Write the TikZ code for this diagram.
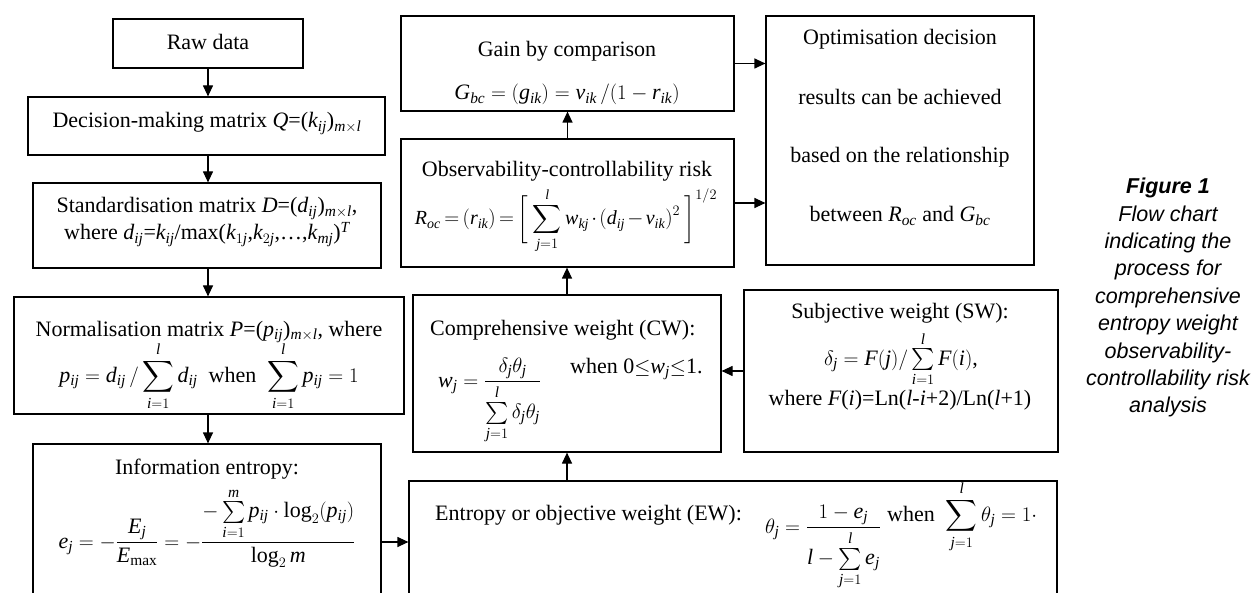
\documentclass[tikz,border=0pt]{standalone}
\DeclareFontShape{OMX}{cmex}{m}{n}{<->cmex10}{}
\usepackage{fontspec}
\setmainfont{Liberation Serif}
\newfontfamily\capfont{Liberation Sans}
\edef\mytmp{\noexpand\DeclareSymbolFont{tuit}{TU}{\rmdefault}{m}{it}}\mytmp
\makeatletter
\def\my@decl#1{\DeclareMathSymbol{#1}{\mathalpha}{tuit}{`#1}}
\@tfor\my@c:=abcdefghijklmnopqrstuvwxyzABCDEFGHIJKLMNOPQRSTUVWXYZ\do{\expandafter\my@decl\my@c}
\makeatother
\newcommand\brstrut{\vrule height 31pt depth 20pt width 0pt}
\usetikzlibrary{arrows.meta}
\begin{document}
\begin{tikzpicture}[x=1pt,y=-1pt,
  box/.style={draw, line width=1.2pt, rectangle, inner sep=0pt},
  arr/.style={line width=1.2pt, -{Triangle[length=11pt,width=10pt]}},
  txt/.style={inner sep=0pt, anchor=base, font=\fontsize{22}{26}\selectfont},
  captext/.style={inner sep=0pt, align=center, font=\capfont\itshape\fontsize{21.5}{27.4}\selectfont}]
\useasboundingbox (0,0) rectangle (1260,593);
\clip (0,0) rectangle (1260,593);
% boxes
\node[box, minimum width=190pt, minimum height=49pt]  (raw)  at (208,43.5) {};
\node[box, minimum width=357pt, minimum height=58pt]  (dec)  at (206.5,126) {};
\node[box, minimum width=348pt, minimum height=85pt]  (std)  at (207,225.5) {};
\node[box, minimum width=390pt, minimum height=117pt] (norm) at (209,355.5) {};
\node[box, minimum width=348pt, minimum height=196pt] (info) at (207,542) {};
\node[box, minimum width=648pt, minimum height=159pt] (ew)   at (733,560.5) {};
\node[box, minimum width=308pt, minimum height=157pt] (cw)   at (567,373.5) {};
\node[box, minimum width=314pt, minimum height=162pt] (sw)   at (901,371) {};
\node[box, minimum width=333pt, minimum height=128pt] (risk) at (567.5,203) {};
\node[box, minimum width=333pt, minimum height=95pt]  (gain) at (567.5,63.5) {};
\node[box, minimum width=268pt, minimum height=249pt] (opt)  at (900,140.5) {};
% texts
\node[txt] (t-raw) at (208,50) {Raw data};
\node[txt] (t-dec) at (207,128) {Decision-making matrix $Q$=($k_{ij}$)$_{m\times l}$};
\node[txt] (t-std1) at (207,213) {Standardisation matrix $D$=($d_{ij}$)$_{m\times l}$,};
\node[txt] (t-std2) at (207,240) {where $d_{ij}$=$k_{ij}$/max($k_{1j}$,$k_{2j}$,\dots,$k_{mj}$)$^{T}$};
\node[txt] (t-norm1) at (209,336) {Normalisation matrix $P$=($p_{ij}$)$_{m\times l}$, where};
\node[txt] (t-norm2) at (209,382) {$\displaystyle p_{ij}=d_{ij}\,/\sum_{i=1}^{l}d_{ij}$\ \ when\ \ $\displaystyle\sum_{i=1}^{l}p_{ij}=1$};
\node[txt] (t-info1) at (207,474) {Information entropy:};
\node[txt] (t-info2) at (207,548) {$\displaystyle e_j=-\frac{E_j}{E_{\max}}=-\frac{-\sum\limits_{i=1}^{m}p_{ij}\cdot\log_2\bigl(p_{ij}\bigr)}{\log_2 m}$};
\node[txt, anchor=base west] (t-ew1) at (435,520) {Entropy or objective weight (EW):};
\node[txt, anchor=base west] (t-ew2) at (765,533) {$\displaystyle \theta_j=\frac{1-e_j}{l-\sum\limits_{j=1}^{l}e_j}$};
\node[txt, anchor=base west] (t-ew3) at (887,521) {when\ \ $\displaystyle\sum_{j=1}^{l}\theta_j=1\cdot$};
\node[txt, anchor=base west] (t-cw1) at (430,335) {Comprehensive weight (CW):};
\node[txt, anchor=base west] (t-cw2) at (438,387) {$\displaystyle w_j=\frac{\delta_j\theta_j}{\sum\limits_{j=1}^{l}\delta_j\theta_j}$};
\node[txt, anchor=base west] (t-cw3) at (570,373) {when 0$\leq$$w_j$$\leq$1.};
\node[txt] (t-sw1) at (900,319) {Subjective weight (SW):};
\node[txt] (t-sw2) at (901,365) {$\delta_j=F(j)/\sum\limits_{i=1}^{l}F(i)$,};
\node[txt] (t-sw3) at (900,405) {where $F$($i$)=Ln($l$-$i$+2)/Ln($l$+1)};
\node[txt] (t-risk1) at (567,177) {Observability-controllability risk};
\node[txt, font=\fontsize{20}{24}\selectfont] (t-risk2) at (566,225) {$\thickmuskip=3mu \medmuskip=2mu \displaystyle R_{oc}=\bigl(r_{ik}\bigr)=\left[\brstrut\right.\sum_{j=1}^{l}w_{kj}\cdot\bigl(d_{ij}-v_{ik}\bigr)^2\left.\brstrut\right]^{1/2}$};
\node[txt] (t-gain1) at (567,57) {Gain by comparison};
\node[txt] (t-gain2) at (567,100) {$G_{bc}=\bigl(g_{ik}\bigr)=v_{ik}\,/\bigl(1-r_{ik}\bigr)$};
\node[txt] (t-opt1) at (900,45) {Optimisation decision};
\node[txt] (t-opt2) at (900,105) {results can be achieved};
\node[txt] (t-opt3) at (900,163) {based on the relationship};
\node[txt] (t-opt4) at (900,222) {between $R_{oc}$ and $G_{bc}$};
\node[captext, anchor=north] (caption) at (1168,178) {{\bfseries Figure 1}\\Flow chart\\indicating the\\process for\\comprehensive\\entropy weight\\observability-\\controllability risk\\analysis};
% connectors
\draw[arr] (raw.south) -- (raw.south |- dec.north);
\draw[arr] (raw.south |- dec.south) -- (raw.south |- std.north);
\draw[arr] (raw.south |- std.south) -- (raw.south |- norm.north);
\draw[arr] (raw.south |- norm.south) -- (raw.south |- info.north);
\draw[arr] (info.east) -- (info.east -| ew.west);
\draw[arr] (cw.south |- ew.north) -- (cw.south);
\draw[arr] (sw.west) -- (sw.west -| cw.east);
\draw[arr] (cw.north) -- (cw.north |- risk.south);
\draw[arr] (risk.north) -- (gain.south);
\draw[arr] (gain.east) -- (gain.east -| opt.west);
\draw[arr] (risk.east) -- (risk.east -| opt.west);
\end{tikzpicture}
\end{document}
